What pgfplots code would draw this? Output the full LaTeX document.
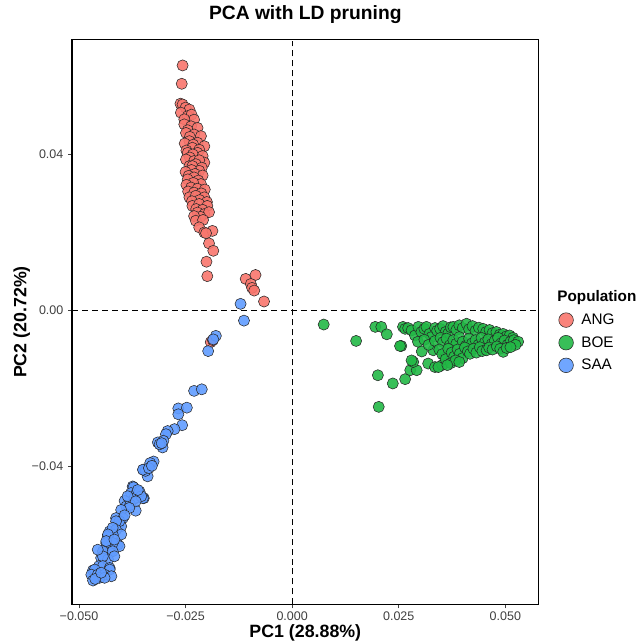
\documentclass[border=0pt]{standalone}
\usepackage{fontspec}
\setmainfont{Liberation Sans}
\usepackage{pgfplots}
\pgfplotsset{compat=1.18}
\definecolor{angc}{RGB}{248,118,109}
\definecolor{boec}{RGB}{34,184,70}
\definecolor{saac}{RGB}{97,156,255}
\begin{document}
\begin{tikzpicture}
\begin{axis}[
  scale only axis, width=351.3pt, height=425pt,
  xmin=-0.05164, xmax=0.0578, ymin=-0.07531, ymax=0.06936,
  clip=false, scaled ticks=false,
  axis line style={line width=0.9pt, black},
  xtick={-0.05,-0.025,0,0.025,0.05},
  xticklabels={−0.050,−0.025,0.000,0.025,0.050},
  ytick={-0.04,0,0.04},
  yticklabels={−0.04,0.00,0.04},
  tick align=outside, major tick length=3pt, tick pos=left,
  tick style={line width=0.7pt, black!75},
  ticklabel style={font=\fontsize{9.4}{11}\selectfont, text=black!75},
  xticklabel style={inner ysep=1pt, yshift=-1.5pt},
  title={\textbf{PCA with LD pruning}},
  title style={font=\fontsize{14.5}{17}\selectfont, at={(axis description cs:0.5,1.031)}, anchor=center},
  xlabel={\textbf{PC1 (28.88\%)}},
  ylabel={\textbf{PC2 (20.72\%)}},
  label style={font=\fontsize{13.4}{16}\selectfont},
  xlabel style={at={(axis description cs:0.5,-0.0505)}, anchor=center, inner sep=0pt},
  ylabel style={at={(axis description cs:-0.1074,0.5)}, anchor=center},
  legend style={at={(axis description cs:1.0255,0.4839)}, anchor=west, draw=none, fill=none,
    font=\fontsize{11.5}{13}\selectfont, row sep=3.5pt,
    /tikz/every odd column/.append style={column sep=4pt}},
  legend cell align=left,
]
\path (rel axis cs:-0.1543,-0.0640) rectangle (rel axis cs:1.2055,1.0706);
\draw[line width=1pt, dash pattern=on 4.5pt off 3pt] (axis cs:0,-0.07531) -- (axis cs:0,0.06936);
\draw[line width=1pt, dash pattern=on 4.5pt off 3pt] (axis cs:-0.05164,0) -- (axis cs:0.0578,0);
\addlegendimage{empty legend}
\addlegendentry{\hspace*{-18pt}\textbf{Population}}
\addplot[only marks, mark=*, mark size=4.2pt, mark options={fill=angc, draw=black!85, line width=0.4pt, fill opacity=0.9}, legend image post style={mark size=5.5pt}] coordinates {
(-0.0257,0.0628) (-0.0259,0.0581) (-0.0262,0.0530) (-0.0257,0.0528) (-0.0250,0.0520)
(-0.0241,0.0515) (-0.0261,0.0507) (-0.0245,0.0498) (-0.0236,0.0502) (-0.0230,0.0489)
(-0.0253,0.0490) (-0.0253,0.0477) (-0.0237,0.0472) (-0.0222,0.0468) (-0.0245,0.0462)
(-0.0249,0.0455) (-0.0230,0.0451) (-0.0214,0.0447) (-0.0240,0.0445) (-0.0241,0.0434)
(-0.0222,0.0430) (-0.0252,0.0428) (-0.0232,0.0425) (-0.0206,0.0421) (-0.0234,0.0417)
(-0.0218,0.0412) (-0.0248,0.0410) (-0.0245,0.0404) (-0.0222,0.0404) (-0.0233,0.0400)
(-0.0210,0.0396) (-0.0240,0.0392) (-0.0249,0.0387) (-0.0230,0.0383) (-0.0206,0.0379)
(-0.0218,0.0385) (-0.0241,0.0370) (-0.0226,0.0375) (-0.0234,0.0370) (-0.0212,0.0366)
(-0.0218,0.0358) (-0.0236,0.0360) (-0.0250,0.0355) (-0.0228,0.0350) (-0.0210,0.0346)
(-0.0243,0.0345) (-0.0230,0.0341) (-0.0245,0.0336) (-0.0220,0.0333) (-0.0214,0.0324)
(-0.0232,0.0327) (-0.0248,0.0322) (-0.0237,0.0315) (-0.0222,0.0312) (-0.0205,0.0310)
(-0.0244,0.0305) (-0.0230,0.0302) (-0.0213,0.0300) (-0.0241,0.0290) (-0.0226,0.0294)
(-0.0206,0.0290) (-0.0217,0.0283) (-0.0235,0.0280) (-0.0200,0.0278) (-0.0234,0.0268)
(-0.0218,0.0273) (-0.0199,0.0268) (-0.0225,0.0260) (-0.0210,0.0258) (-0.0222,0.0251)
(-0.0206,0.0247) (-0.0195,0.0252) (-0.0215,0.0240) (-0.0230,0.0242) (-0.0226,0.0230)
(-0.0209,0.0232) (-0.0218,0.0213) (-0.0206,0.0200) (-0.0187,0.0204) (-0.0202,0.0198)
(-0.0195,0.0172) (-0.0185,0.0153) (-0.0201,0.0125) (-0.0199,0.0088) (-0.0109,0.0081)
(-0.0086,0.0091) (-0.0097,0.0068) (-0.0094,0.0058) (-0.0089,0.0051) (-0.0066,0.0023)
(-0.0191,-0.0081) (-0.0186,-0.0076)
};
\addlegendentry{ANG}
\addplot[only marks, mark=*, mark size=4.2pt, mark options={fill=boec, draw=black!85, line width=0.4pt, fill opacity=0.9}, legend image post style={mark size=5.5pt}] coordinates {
(0.0074,-0.0036) (0.0150,-0.0078) (0.0195,-0.0042) (0.0209,-0.0042) (0.0222,-0.0061)
(0.0256,-0.0091) (0.0201,-0.0166) (0.0236,-0.0187) (0.0265,-0.0176) (0.0277,-0.0153)
(0.0292,-0.0153) (0.0284,-0.0132) (0.0203,-0.0247) (0.0253,-0.0091) (0.0280,-0.0128)
(0.0304,-0.0105) (0.0319,-0.0136) (0.0335,-0.0145) (0.0352,-0.0140)
(0.0343,-0.0145) (0.0331,-0.0102) (0.0358,-0.0119)
(0.0260,-0.0042) (0.0265,-0.0047) (0.0272,-0.0045) (0.0280,-0.0051) (0.0288,-0.0064)
(0.0296,-0.0042) (0.0303,-0.0055) (0.0310,-0.0047) (0.0315,-0.0042) (0.0322,-0.0060)
(0.0327,-0.0068) (0.0335,-0.0045) (0.0340,-0.0052) (0.0347,-0.0047) (0.0354,-0.0040)
(0.0360,-0.0055) (0.0366,-0.0059) (0.0372,-0.0043) (0.0378,-0.0042) (0.0385,-0.0050)
(0.0392,-0.0038) (0.0400,-0.0045) (0.0409,-0.0034) (0.0415,-0.0048) (0.0423,-0.0040)
(0.0430,-0.0052) (0.0438,-0.0044) (0.0448,-0.0047) (0.0455,-0.0055) (0.0463,-0.0050)
(0.0470,-0.0058) (0.0479,-0.0055) (0.0487,-0.0062) (0.0495,-0.0060) (0.0503,-0.0066)
(0.0510,-0.0064) (0.0518,-0.0070)
(0.0295,-0.0080) (0.0310,-0.0075) (0.0320,-0.0088) (0.0335,-0.0078) (0.0348,-0.0070)
(0.0354,-0.0081) (0.0362,-0.0072) (0.0370,-0.0089) (0.0378,-0.0076) (0.0385,-0.0085)
(0.0392,-0.0068) (0.0400,-0.0080) (0.0408,-0.0090) (0.0415,-0.0072) (0.0422,-0.0084)
(0.0430,-0.0076) (0.0437,-0.0088) (0.0444,-0.0070) (0.0452,-0.0082) (0.0460,-0.0074)
(0.0468,-0.0086) (0.0475,-0.0078) (0.0483,-0.0070) (0.0490,-0.0084) (0.0498,-0.0077)
(0.0505,-0.0088) (0.0512,-0.0080) (0.0520,-0.0076) (0.0530,-0.0080) (0.0524,-0.0088)
(0.0345,-0.0100) (0.0352,-0.0112) (0.0360,-0.0125) (0.0366,-0.0098) (0.0374,-0.0108)
(0.0380,-0.0118) (0.0388,-0.0100) (0.0393,-0.0111) (0.0400,-0.0122) (0.0405,-0.0095)
(0.0412,-0.0105) (0.0417,-0.0111) (0.0425,-0.0098) (0.0432,-0.0108) (0.0440,-0.0094)
(0.0446,-0.0104) (0.0456,-0.0102) (0.0462,-0.0095) (0.0470,-0.0100) (0.0480,-0.0092)
(0.0488,-0.0098) (0.0495,-0.0106) (0.0503,-0.0096) (0.0512,-0.0094) (0.0372,-0.0135)
(0.0383,-0.0128) (0.0392,-0.0132) (0.0364,-0.0140)
};
\addlegendentry{BOE}
\addplot[only marks, mark=*, mark size=4.2pt, mark options={fill=saac, draw=black!85, line width=0.4pt, fill opacity=0.9}, legend image post style={mark size=5.5pt}] coordinates {
(-0.0121,0.0017) (-0.0113,-0.0026) (-0.0179,-0.0065) (-0.0185,-0.0074) (-0.0197,-0.0104)
(-0.0230,-0.0206) (-0.0212,-0.0202) (-0.0267,-0.0251) (-0.0247,-0.0249) (-0.0267,-0.0266)
(-0.0258,-0.0294) (-0.0276,-0.0304) (-0.0292,-0.0309) (-0.0296,-0.0317) (-0.0315,-0.0338)
(-0.0302,-0.0334) (-0.0304,-0.0351) (-0.0311,-0.0343) (-0.0306,-0.0340) (-0.0325,-0.0387)
(-0.0333,-0.0391) (-0.0349,-0.0408) (-0.0339,-0.0425) (-0.0344,-0.0411) (-0.0350,-0.0408)
(-0.0336,-0.0404) (-0.0329,-0.0398) (-0.0374,-0.0451) (-0.0372,-0.0453) (-0.0378,-0.0468)
(-0.0366,-0.0471) (-0.0348,-0.0481) (-0.0366,-0.0481) (-0.0350,-0.0481) (-0.0370,-0.0481)
(-0.0358,-0.0464) (-0.0354,-0.0476) (-0.0362,-0.0460) (-0.0393,-0.0488) (-0.0389,-0.0502)
(-0.0367,-0.0513) (-0.0380,-0.0498) (-0.0386,-0.0476) (-0.0367,-0.0489) (-0.0382,-0.0506)
(-0.0401,-0.0511) (-0.0397,-0.0532) (-0.0413,-0.0532) (-0.0409,-0.0553) (-0.0401,-0.0553)
(-0.0405,-0.0540) (-0.0413,-0.0540) (-0.0393,-0.0525) (-0.0428,-0.0566) (-0.0413,-0.0562)
(-0.0401,-0.0574) (-0.0421,-0.0574) (-0.0432,-0.0578) (-0.0421,-0.0557) (-0.0432,-0.0574)
(-0.0421,-0.0604) (-0.0436,-0.0604) (-0.0409,-0.0600) (-0.0405,-0.0604) (-0.0421,-0.0596)
(-0.0436,-0.0596) (-0.0436,-0.0591) (-0.0417,-0.0587) (-0.0428,-0.0621) (-0.0444,-0.0617)
(-0.0421,-0.0617) (-0.0448,-0.0634) (-0.0432,-0.0638) (-0.0417,-0.0630) (-0.0444,-0.0630)
(-0.0456,-0.0613) (-0.0453,-0.0655) (-0.0444,-0.0655) (-0.0428,-0.0660) (-0.0428,-0.0664)
(-0.0467,-0.0666) (-0.0463,-0.0664) (-0.0471,-0.0677) (-0.0456,-0.0677) (-0.0440,-0.0677)
(-0.0424,-0.0681) (-0.0452,-0.0685) (-0.0440,-0.0685) (-0.0467,-0.0692) (-0.0462,-0.0688)
(-0.0448,-0.0672)
};
\addlegendentry{SAA}
\end{axis}
\end{tikzpicture}
\end{document}
